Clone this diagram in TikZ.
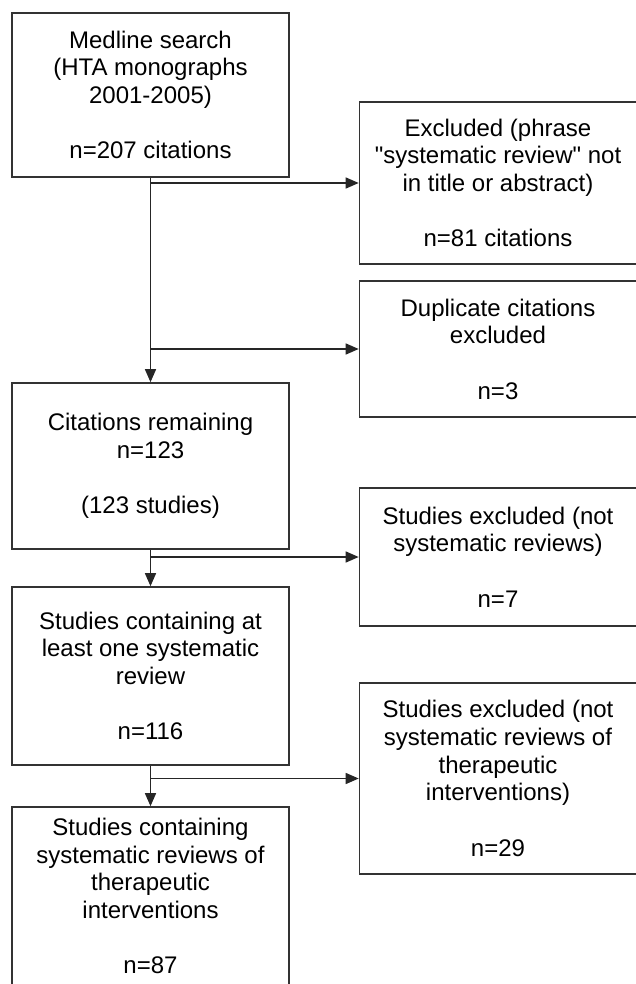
\documentclass[tikz,border=0pt]{standalone}
\usepackage{fontspec}
\setmainfont{Liberation Sans}
\usetikzlibrary{positioning, arrows.meta}

\begin{document}
\begin{tikzpicture}[
  x=1pt, y=-1pt,
  font=\fontsize{24}{27.7}\selectfont,
  >={Triangle[length=13pt, width=11pt]},
  box/.style ={draw=black!80, line width=1.6pt, align=center, inner sep=0pt, minimum width=277pt},
  arr/.style ={->, draw=black!85, line width=1.4pt},
]
\useasboundingbox (0,0) rectangle (636,984);
\clip (0,0) rectangle (636,984);

% ---- main column (left) ----
\node[box, minimum height=164pt] (search) at (150.5, 95)
  {Medline search\\(HTA monographs\\2001-2005)\\[27.7pt]n=207 citations};
\node[box, minimum height=166pt] (remain) at (150.5, 466)
  {Citations remaining\\n=123\\[27.7pt](123 studies)};
\node[box, minimum height=178pt] (onesr)  at (150.5, 676)
  {Studies containing at\\least one systematic\\review\\[27.7pt]n=116};
\node[box, minimum height=178pt] (final)  at (150.5, 896)
  {Studies containing\\systematic reviews of\\therapeutic\\interventions\\[27.7pt]n=87};

% ---- exclusions (right, cut off at the page edge) ----
\node[box, minimum height=162pt] (excl)  at (498, 183)
  {Excluded (phrase\\\textquotedbl systematic review\textquotedbl{} not\\in title or abstract)\\[27.7pt]n=81 citations};
\node[box, minimum height=136pt] (dup)   at (498, 349)
  {Duplicate citations\\excluded\\[27.7pt]n=3};
\node[box, minimum height=138pt] (notsr) at (498, 557)
  {Studies excluded (not\\systematic reviews)\\[27.7pt]n=7};
\node[box, minimum height=191pt] (nottx) at (498, 778.5)
  {Studies excluded (not\\systematic reviews of\\therapeutic\\interventions)\\[27.7pt]n=29};

% ---- flow ----
\draw[arr] (search) -- (remain);
\draw[arr] (search.south |- excl.west) -- (excl.west);
\draw[arr] (search.south |- dup.west) -- (dup.west);

\draw[arr] (remain) -- (onesr);
\draw[arr] (remain.south |- notsr.west) -- (notsr.west);

\draw[arr] (onesr) -- (final);
\draw[arr] (onesr.south |- nottx.west) -- (nottx.west);

\end{tikzpicture}
\end{document}
